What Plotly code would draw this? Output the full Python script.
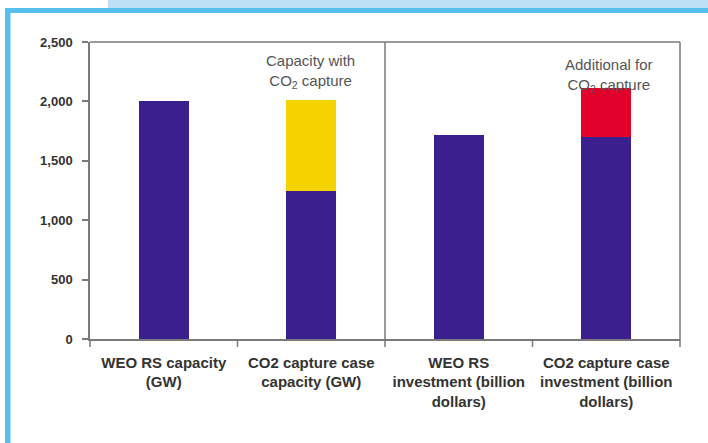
import plotly.graph_objects as go

categories = ["WEO RS capacity<br>(GW)", "CO2 capture case<br>capacity (GW)",
              "WEO RS<br>investment (billion<br>dollars)", "CO2 capture case<br>investment (billion<br>dollars)"]
base_values = [2000, 1250, 1715, 1700]
capture_capacity = [0, 760, 0, 0]
capture_additional = [0, 0, 0, 410]
y_ticks = [0, 500, 1000, 1500, 2000, 2500]
y_tick_labels = ["0", "500", "1,000", "1,500", "2,000", "2,500"]

W, H = 708, 443
L, R, T, B = 90, 680, 42, 339

def px(x):
    return (x - L) / (R - L)

def py(y):
    return (B - y) / (B - T)

fig = go.Figure()
fig.add_bar(x=categories, y=base_values, marker_color="#3b1f8e", marker_line_width=0, width=0.34)
fig.add_bar(x=categories, y=capture_capacity, marker_color="#f5d300", marker_line_width=0, width=0.34)
fig.add_bar(x=categories, y=capture_additional, marker_color="#e2002b", marker_line_width=0, width=0.34)

shapes = [
    dict(type="rect", xref="paper", yref="paper", x0=px(108), x1=px(708), y0=py(0), y1=py(8.5),
         fillcolor="#bde0f6", line_width=0, layer="below"),
    dict(type="rect", xref="paper", yref="paper", x0=px(5), x1=px(708), y0=py(8), y1=py(13),
         fillcolor="#56bfec", line_width=0, layer="below"),
    dict(type="rect", xref="paper", yref="paper", x0=px(5), x1=px(10.5), y0=py(8), y1=py(443),
         fillcolor="#56bfec", line_width=0, layer="below"),
    dict(type="line", xref="paper", yref="paper", x0=0.5, x1=0.5, y0=0, y1=1,
         line=dict(color="#7a7a7a", width=1.5)),
    dict(type="line", xref="paper", yref="paper", x0=0, x1=1, y0=1, y1=1,
         line=dict(color="#7a7a7a", width=1.5)),
    dict(type="line", xref="paper", yref="paper", x0=1, x1=1, y0=0, y1=1,
         line=dict(color="#7a7a7a", width=1.5)),
]
for i in range(5):
    xx = i / 4
    shapes.append(dict(type="line", xref="paper", yref="paper", x0=xx, x1=xx, y0=0, y1=py(347),
                       line=dict(color="#7a7a7a", width=1.5)))

fig.update_layout(
    barmode="stack",
    width=W, height=H,
    margin=dict(l=L, r=W - R, t=T, b=H - B),
    paper_bgcolor="white", plot_bgcolor="white",
    showlegend=False,
    shapes=shapes,
    xaxis=dict(showline=True, linecolor="#7a7a7a", linewidth=1.5, ticks="", showgrid=False,
               tickfont=dict(family="Liberation Sans Narrow, Arial Narrow, sans-serif", size=15, color="#333333",
                             weight="bold"),
               ticklabelstandoff=9),
    yaxis=dict(range=[0, 2500], tickvals=y_ticks, ticktext=y_tick_labels,
               showline=True, linecolor="#7a7a7a", linewidth=1.5, ticks="outside", ticklen=6,
               tickcolor="#7a7a7a", tickwidth=1.5, showgrid=False, zeroline=False,
               ticklabelstandoff=7,
               tickfont=dict(family="Liberation Sans Narrow, Arial Narrow, sans-serif", size=13, color="#333333",
                             weight="bold")),
    annotations=[
        dict(x=px(310), y=py(71), xref="paper", yref="paper", showarrow=False,
             text="Capacity with<br>CO<sub>2</sub> capture", font=dict(family="Liberation Sans, Arial", size=15, color="#555555"),
             xanchor="center", yanchor="middle"),
        dict(x=px(609), y=py(75), xref="paper", yref="paper", showarrow=False,
             text="Additional for<br>CO<sub>2</sub> capture", font=dict(family="Liberation Sans, Arial", size=15, color="#555555"),
             xanchor="center", yanchor="middle"),
    ],
)

fig.write_html("out.html")
